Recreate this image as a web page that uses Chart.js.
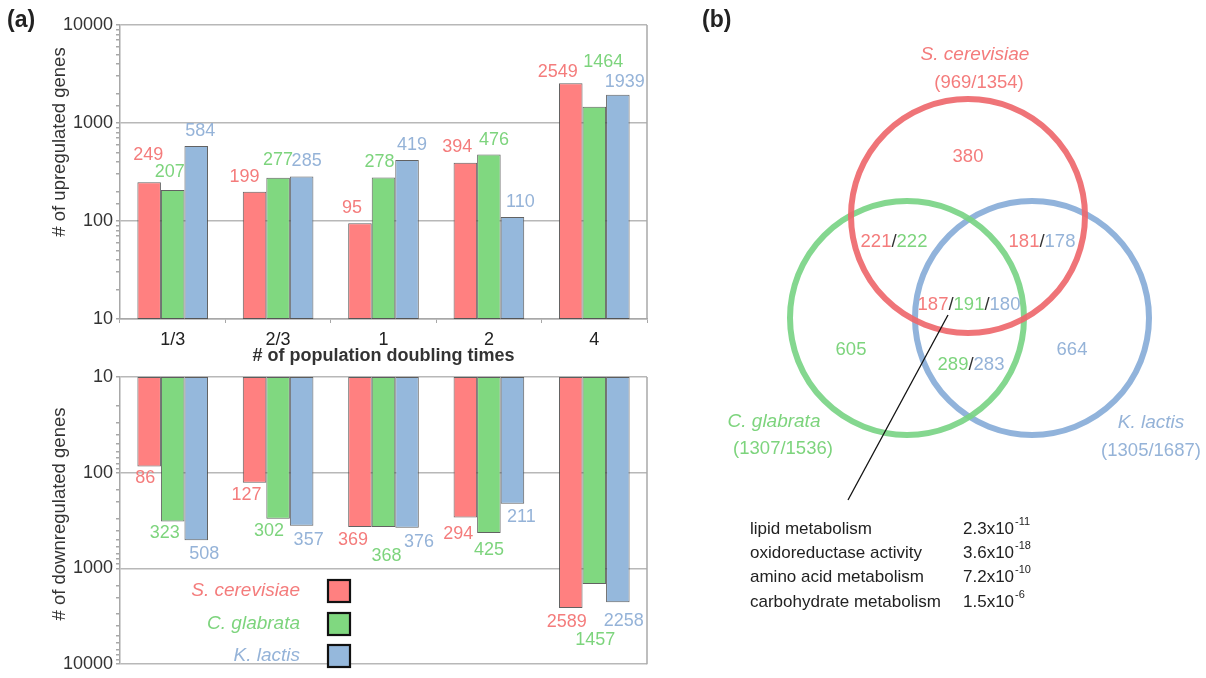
<!DOCTYPE html>
<html>
<head>
<meta charset="utf-8">
<script src="https://cdn.jsdelivr.net/npm/chart.js@4/dist/chart.umd.min.js"></script>
<style>
  html, body { margin: 0; padding: 0; background: #fff; }
  #wrap { position: relative; width: 1206px; height: 678px; overflow: hidden; }
  #wrap canvas { position: absolute; }
  .tag { position: absolute; font: bold 23px "Liberation Sans", Arial, sans-serif; color: #222; }
</style>
</head>
<body>
<div id="wrap">
  <canvas id="up" width="700" height="372" style="left:0;top:0"></canvas>
  <canvas id="down" width="700" height="318" style="left:0;top:360px"></canvas>
  <canvas id="venn" width="506" height="678" style="left:700px;top:0"></canvas>
  <div class="tag" style="left:7px;top:6px">(a)</div>
  <div class="tag" style="left:702px;top:6px">(b)</div>
</div>
<script>
// ---- gene counts per population doubling time ----
const doublingTimes = ['1/3', '2/3', '1', '2', '4'];
const speciesNames = ['S. cerevisiae', 'C. glabrata', 'K. lactis'];

const upCerevisiae = [249, 199, 95, 394, 2549];
const upGlabrata   = [207, 277, 278, 476, 1464];
const upLactis     = [584, 285, 419, 110, 1939];

const downCerevisiae = [86, 127, 369, 294, 2589];
const downGlabrata   = [323, 302, 368, 425, 1457];
const downLactis     = [508, 357, 376, 211, 2258];

const decadeTicks = [10, 100, 1000, 10000];

// ---- Venn overlap counts (S. cerevisiae / C. glabrata / K. lactis) ----
const uniqueCounts = [380, 605, 664];
const cerGlaCounts = [221, 222];
const cerLacCounts = [181, 178];
const glaLacCounts = [289, 283];
const sharedCounts = [187, 191, 180];
const speciesTotals = ['969/1354', '1307/1536', '1305/1687'];

const goTerms = ['lipid metabolism', 'oxidoreductase activity', 'amino acid metabolism', 'carbohydrate metabolism'];
const goMantissa = ['2.3', '3.6', '7.2', '1.5'];
const goExponent = ['-11', '-18', '-10', '-6'];

// ---- styling ----
const FONT = '"Liberation Sans", Arial, Helvetica, sans-serif';
const barFill   = ['#ff8080', '#80d880', '#95b8dc'];
const textColor = ['#f47c7c', '#7dd47d', '#95b3d8'];
const ringColor = ['rgba(238,104,108,0.92)', 'rgba(122,212,134,0.92)', 'rgba(136,172,216,0.92)'];
const axisGray = '#a8a8a8';

// label nudges [dx, dy] relative to the bar end, per series / per category
const upNudge = [
  [[-1, -27], [-10, -15], [-8, -15], [-8, -16], [-13, -11]],
  [[-3, -18], [0, -18], [-4, -15], [5, -15], [9, -45]],
  [[4, -15], [5, -15], [5, -15], [8, -15], [7, -13]]
];
const downNudge = [
  [[-4, 12], [-8, 12], [-7, 13], [-7, 16], [-4, 14]],
  [[-8, 12], [-9, 12], [3, 29], [0, 17], [1, 56]],
  [[8, 14], [7, 14], [12, 14], [9, 13], [6, 19]]
];

const isDecade = v => Math.abs(Math.log10(v) - Math.round(Math.log10(v))) < 1e-9;

function valueLabelPlugin(nudge) {
  return {
    id: 'valueLabels',
    afterDatasetsDraw(chart) {
      const ctx = chart.ctx;
      ctx.save();
      ctx.font = '18px ' + FONT;
      ctx.textAlign = 'center';
      ctx.textBaseline = 'middle';
      chart.data.datasets.forEach((ds, i) => {
        chart.getDatasetMeta(i).data.forEach((bar, j) => {
          const [dx, dy] = nudge[i][j];
          ctx.fillStyle = textColor[i];
          ctx.fillText(String(ds.data[j]), bar.x + dx, bar.y + dy);
        });
      });
      ctx.restore();
    }
  };
}

const rightEdge = {
  id: 'rightEdge',
  beforeDatasetsDraw(chart) {
    const { ctx, chartArea: a } = chart;
    ctx.save();
    ctx.strokeStyle = axisGray;
    ctx.lineWidth = 1.5;
    ctx.beginPath();
    ctx.moveTo(a.right, a.top);
    ctx.lineTo(a.right, a.bottom);
    ctx.stroke();
    ctx.restore();
  }
};

function yTitlePlugin(text, x, y) {
  return {
    id: 'yTitle',
    afterDraw(chart) {
      const ctx = chart.ctx;
      ctx.save();
      ctx.translate(x, y);
      ctx.rotate(-Math.PI / 2);
      ctx.font = '18.5px ' + FONT;
      ctx.fillStyle = '#333';
      ctx.textAlign = 'center';
      ctx.textBaseline = 'middle';
      ctx.fillText(text, 0, 0);
      ctx.restore();
    }
  };
}

const legendPlugin = {
  id: 'speciesLegend',
  afterDraw(chart) {
    const ctx = chart.ctx;
    const rows = [231, 264, 296];
    ctx.save();
    ctx.font = 'italic 19px ' + FONT;
    ctx.textAlign = 'right';
    ctx.textBaseline = 'middle';
    speciesNames.forEach((name, i) => {
      ctx.fillStyle = textColor[i];
      ctx.fillText(name, 300, rows[i]);
      ctx.fillStyle = barFill[i];
      ctx.fillRect(328, rows[i] - 11, 22, 22);
      ctx.strokeStyle = '#111';
      ctx.lineWidth = 2.2;
      ctx.strokeRect(328, rows[i] - 11, 22, 22);
    });
    ctx.restore();
  }
};

function logAxis(reverse) {
  return {
    type: 'logarithmic',
    min: 10,
    max: 10000,
    reverse: reverse,
    afterFit: s => { s.width = 120; },
    ticks: {
      autoSkip: false,
      padding: 3,
      color: '#333',
      font: { family: FONT, size: 18 },
      callback: v => (decadeTicks.includes(Math.round(v)) && isDecade(v)) ? String(Math.round(v)) : ''
    },
    grid: {
      color: c => (c.tick && isDecade(c.tick.value)) ? '#b8b8b8' : 'rgba(0,0,0,0)',
      lineWidth: 1.5,
      tickColor: axisGray,
      tickLength: 4
    },
    border: { color: axisGray, width: 1.5 }
  };
}

function datasetsFrom(series) {
  return series.map((values, i) => ({
    label: speciesNames[i],
    data: values,
    backgroundColor: barFill[i],
    borderColor: 'rgba(70,70,70,0.85)',
    borderWidth: 1,
    borderSkipped: false,
    categoryPercentage: 0.67,
    barPercentage: 1.0
  }));
}

// upregulated genes
new Chart(document.getElementById('up'), {
  type: 'bar',
  data: { labels: doublingTimes, datasets: datasetsFrom([upCerevisiae, upGlabrata, upLactis]) },
  options: {
    responsive: false,
    animation: false,
    devicePixelRatio: 1,
    layout: { padding: { top: 25, right: 53, left: 0, bottom: 0 } },
    plugins: { legend: { display: false }, tooltip: { enabled: false } },
    scales: {
      x: {
        afterFit: s => { s.height = 53; },
        grid: { offset: true, color: 'rgba(0,0,0,0)', tickColor: axisGray, tickLength: 4 },
        border: { color: axisGray, width: 1.5 },
        ticks: { padding: 6, color: '#222', font: { family: FONT, size: 18 } },
        title: {
          display: true,
          text: '# of population doubling times',
          color: '#333',
          font: { family: FONT, size: 18, weight: 'bold' },
          padding: { top: 0, bottom: 5 }
        }
      },
      y: logAxis(false)
    }
  },
  plugins: [rightEdge, valueLabelPlugin(upNudge), yTitlePlugin('# of upregulated genes', 60, 142)]
});

// downregulated genes (axis runs downward)
new Chart(document.getElementById('down'), {
  type: 'bar',
  data: { labels: doublingTimes, datasets: datasetsFrom([downCerevisiae, downGlabrata, downLactis]) },
  options: {
    responsive: false,
    animation: false,
    devicePixelRatio: 1,
    layout: { padding: { top: 17, right: 53, left: 0, bottom: 6 } },
    plugins: { legend: { display: false }, tooltip: { enabled: false } },
    scales: {
      x: { display: false },
      y: logAxis(true)
    }
  },
  plugins: [rightEdge, valueLabelPlugin(downNudge), legendPlugin, yTitlePlugin('# of downregulated genes', 60, 154)]
});

// ---- Venn diagram of conserved responsive genes ----
const circleX = [268, 207, 332];
const circleY = [216, 318, 318];
const circleR = 117;

function drawParts(ctx, parts, x, y) {
  const total = parts.reduce((w, p) => w + ctx.measureText(p[0]).width, 0);
  let cx = x - total / 2;
  ctx.textAlign = 'left';
  parts.forEach(([t, col]) => {
    ctx.fillStyle = col;
    ctx.fillText(t, cx, y);
    cx += ctx.measureText(t).width;
  });
}

function joinCounts(counts, colorIdx) {
  const parts = [];
  counts.forEach((c, k) => {
    if (k > 0) parts.push(['/', '#333']);
    parts.push([String(c), textColor[colorIdx[k]]]);
  });
  return parts;
}

const vennText = {
  id: 'vennText',
  afterDatasetsDraw(chart) {
    const { ctx } = chart;
    const sx = chart.scales.x, sy = chart.scales.y;
    const P = (x, y) => [sx.getPixelForValue(x), sy.getPixelForValue(y)];
    ctx.save();
    ctx.textBaseline = 'middle';

    // species names and totals
    const names = [[275, 55, 279, 83], [74, 422, 83, 449], [451, 423, 451, 451]];
    names.forEach((n, i) => {
      ctx.font = 'italic 19px ' + FONT;
      ctx.textAlign = 'center';
      ctx.fillStyle = textColor[i];
      let [px, py] = P(n[0], n[1]);
      ctx.fillText(speciesNames[i], px, py);
      ctx.font = '18.5px ' + FONT;
      [px, py] = P(n[2], n[3]);
      ctx.fillText('(' + speciesTotals[i] + ')', px, py);
    });

    // region counts
    ctx.font = '18.5px ' + FONT;
    const regions = [
      [[[String(uniqueCounts[0]), textColor[0]]], 268, 157],
      [[[String(uniqueCounts[1]), textColor[1]]], 151, 350],
      [[[String(uniqueCounts[2]), textColor[2]]], 372, 350],
      [joinCounts(cerGlaCounts, [0, 1]), 194, 242],
      [joinCounts(cerLacCounts, [0, 2]), 342, 242],
      [joinCounts(glaLacCounts, [1, 2]), 271, 365],
      [joinCounts(sharedCounts, [0, 1, 2]), 269, 305]
    ];
    regions.forEach(([parts, x, y]) => {
      const [px, py] = P(x, y);
      drawParts(ctx, parts, px, py);
    });

    // pointer to the GO enrichment table
    const [ax, ay] = P(248, 315), [bx, by] = P(148, 500);
    ctx.strokeStyle = '#111';
    ctx.lineWidth = 1.3;
    ctx.beginPath();
    ctx.moveTo(ax, ay);
    ctx.lineTo(bx, by);
    ctx.stroke();

    // GO terms with p-values
    const rowY = [529, 553, 577, 602];
    goTerms.forEach((term, i) => {
      ctx.textAlign = 'left';
      ctx.fillStyle = '#222';
      ctx.font = '17px ' + FONT;
      let [px, py] = P(50, rowY[i]);
      ctx.fillText(term, px, py);
      [px, py] = P(263, rowY[i]);
      const base = goMantissa[i] + 'x10';
      ctx.fillText(base, px, py);
      const w = ctx.measureText(base).width;
      ctx.font = '11px ' + FONT;
      ctx.fillText(goExponent[i], px + w + 1, py - 7);
    });
    ctx.restore();
  }
};

new Chart(document.getElementById('venn'), {
  type: 'bubble',
  data: {
    datasets: speciesNames.map((name, i) => ({
      label: name,
      data: [{ x: circleX[i], y: circleY[i], r: circleR }],
      backgroundColor: 'rgba(0,0,0,0)',
      borderColor: ringColor[i],
      borderWidth: 6,
      hoverBorderWidth: 6,
      clip: false
    }))
  },
  options: {
    responsive: false,
    animation: false,
    devicePixelRatio: 1,
    layout: { padding: 0, autoPadding: false },
    plugins: { legend: { display: false }, tooltip: { enabled: false } },
    scales: {
      x: { type: 'linear', min: 0, max: 506, display: false },
      y: { type: 'linear', min: 0, max: 678, reverse: true, display: false }
    }
  },
  plugins: [vennText]
});
</script>
</body>
</html>
